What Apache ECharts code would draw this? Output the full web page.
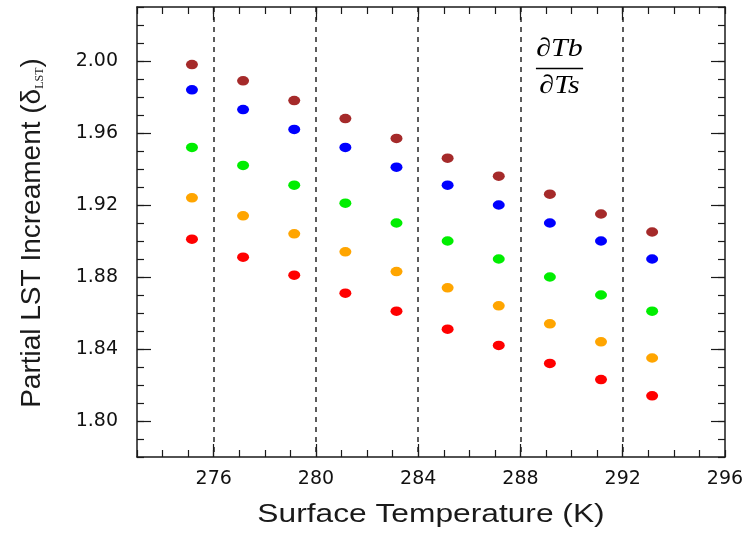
<!DOCTYPE html>
<html>
<head>
<meta charset="utf-8">
<script src="https://cdn.jsdelivr.net/npm/echarts@6/dist/echarts.min.js"></script>
<style>
  html, body { margin: 0; padding: 0; background: #ffffff; }
  #chart { width: 748px; height: 533px; }
</style>
</head>
<body>
<div id="chart"></div>
<script>
// Surface temperatures (K) at which the partial increments were evaluated
const temps = [275.15, 277.15, 279.15, 281.15, 283.15, 285.15, 287.15, 289.15, 291.15, 293.15];

// Partial LST increment for each case
const brownVals  = [1.998, 1.989, 1.978, 1.968, 1.957, 1.946, 1.936, 1.926, 1.915, 1.905];
const blueVals   = [1.984, 1.973, 1.962, 1.952, 1.941, 1.931, 1.920, 1.910, 1.900, 1.890];
const greenVals  = [1.952, 1.942, 1.931, 1.921, 1.910, 1.900, 1.890, 1.880, 1.870, 1.861];
const orangeVals = [1.924, 1.914, 1.904, 1.894, 1.883, 1.874, 1.864, 1.854, 1.844, 1.835];
const redVals    = [1.901, 1.891, 1.881, 1.871, 1.861, 1.851, 1.842, 1.832, 1.823, 1.814];

// Axis ticks
const xTickLabels = [276, 280, 284, 288, 292, 296];
const xDashed = [276, 280, 284, 288, 292];
const yTickLabels = [1.80, 1.84, 1.88, 1.92, 1.96, 2.00];

const X_MIN = 273, X_MAX = 296;
const Y_MIN = 1.78, Y_MAX = 2.03;

const ink = '#1a1a1a';
const lineStyle = { color: ink, width: 1.5 };
const tickStyle = { color: ink, width: 1.2 };
const labelFont = { fontFamily: 'DejaVu Sans', fontSize: 19, color: '#111111' };

function xAxisMinor(position, withLabels) {
  return {
    type: 'value', position, min: X_MIN, max: X_MAX, interval: 1,
    axisLine: { show: true, lineStyle },
    axisTick: { show: true, inside: true, length: 7, lineStyle: tickStyle },
    axisLabel: withLabels
      ? Object.assign({ show: true, customValues: xTickLabels, margin: 13 }, labelFont)
      : { show: false },
    splitLine: { show: false }
  };
}
function xAxisMajor(position, withSplit) {
  return {
    type: 'value', position, min: X_MIN, max: X_MAX,
    axisLine: { show: false },
    axisTick: { show: true, inside: true, length: 13, customValues: xDashed, lineStyle: tickStyle },
    axisLabel: { show: false },
    splitLine: withSplit
      ? { show: true, lineStyle: { color: '#333333', width: 1.6, type: [5, 5] } }
      : { show: false }
  };
}
function yAxisMinor(position, withLabels) {
  return {
    type: 'value', position, min: Y_MIN, max: Y_MAX, interval: 0.01,
    axisLine: { show: true, lineStyle },
    axisTick: { show: true, inside: true, length: 7, lineStyle: tickStyle },
    axisLabel: withLabels
      ? Object.assign({ show: true, customValues: yTickLabels, margin: 19,
          formatter: v => Number(v).toFixed(2) }, labelFont)
      : { show: false },
    splitLine: { show: false }
  };
}
function yAxisMajor(position) {
  return {
    type: 'value', position, min: Y_MIN, max: Y_MAX,
    axisLine: { show: false },
    axisTick: { show: true, inside: true, length: 14, customValues: yTickLabels, lineStyle: tickStyle },
    axisLabel: { show: false },
    splitLine: { show: false }
  };
}

function pairs(vals) {
  return temps.map((t, i) => [t, vals[i]]);
}

const groups = [
  { name: 'brown',  color: '#a52a2a', vals: brownVals },
  { name: 'blue',   color: '#0000ff', vals: blueVals },
  { name: 'green',  color: '#00ee00', vals: greenVals },
  { name: 'orange', color: '#ffa500', vals: orangeVals },
  { name: 'red',    color: '#ff0000', vals: redVals }
];

const chart = echarts.init(document.getElementById('chart'), null, { renderer: 'canvas' });

chart.setOption({
  backgroundColor: '#ffffff',
  animation: false,
  grid: { left: 137, right: 23, top: 7, bottom: 76, containLabel: false },
  xAxis: [
    xAxisMinor('bottom', true),
    xAxisMajor('bottom', true),
    xAxisMinor('top', false),
    xAxisMajor('top', false)
  ],
  yAxis: [
    yAxisMinor('left', true),
    yAxisMajor('left'),
    yAxisMinor('right', false),
    yAxisMajor('right')
  ],
  series: groups.map(g => ({
    name: g.name,
    type: 'scatter',
    xAxisIndex: 0,
    yAxisIndex: 0,
    symbol: 'circle',
    symbolSize: [12, 9.5],
    itemStyle: { color: g.color, opacity: 1 },
    data: pairs(g.vals)
  })),
  graphic: [
    {
      type: 'text',
      x: 431, y: 515,
      scaleX: 1.22,
      style: {
        text: 'Surface Temperature (K)',
        fontFamily: 'Liberation Sans', fontSize: 26, fill: ink,
        align: 'center', verticalAlign: 'middle'
      }
    },
    {
      type: 'text',
      x: 32, y: 233,
      rotation: Math.PI / 2,
      style: {
        text: '{a|Partial LST Increament (δ}{s|LST}{a|)}',
        align: 'center', verticalAlign: 'middle',
        rich: {
          a: { fontFamily: 'Liberation Sans', fontSize: 28, fill: ink },
          s: { fontFamily: 'Liberation Serif', fontSize: 12, fill: ink, verticalAlign: 'bottom' }
        }
      }
    },
    {
      type: 'group',
      x: 559.5, y: 0,
      scaleX: 1.15,
      children: [
        {
          type: 'text', x: 0, y: 49,
          style: {
            text: '∂Tb', fontFamily: 'Liberation Serif', fontStyle: 'italic',
            fontSize: 26, fill: '#000000', align: 'center', verticalAlign: 'middle'
          }
        },
        {
          type: 'line',
          shape: { x1: -20.5, y1: 68.5, x2: 20.5, y2: 68.5 },
          style: { stroke: '#000000', lineWidth: 1.6 }
        },
        {
          type: 'text', x: 0, y: 86,
          style: {
            text: '∂Ts', fontFamily: 'Liberation Serif', fontStyle: 'italic',
            fontSize: 26, fill: '#000000', align: 'center', verticalAlign: 'middle'
          }
        }
      ]
    }
  ]
});
</script>
</body>
</html>
